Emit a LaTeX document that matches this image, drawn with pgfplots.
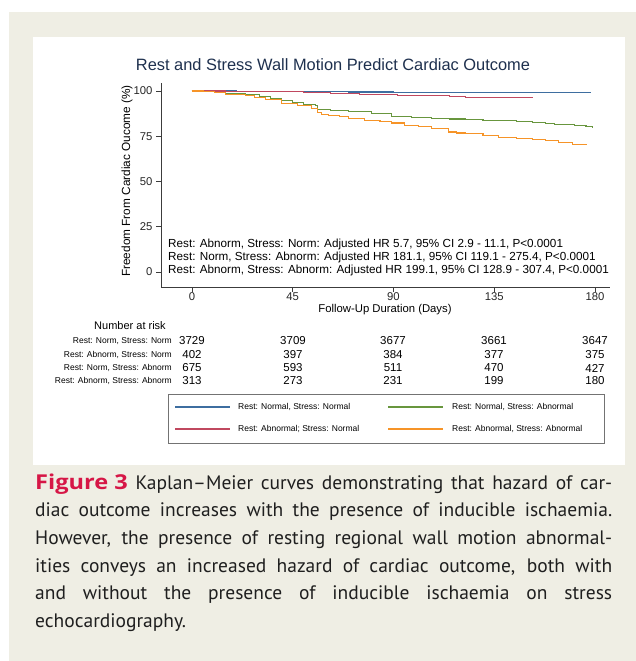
\documentclass[border=0pt]{standalone}
\usepackage{graphicx}
\usepackage{pgfplots}
\pgfplotsset{compat=1.18}
\usepackage{fontspec}
\setmainfont{Liberation Sans}
\newfontfamily\capfont{PT Sans}
\newfontfamily\figfont{Open Sans}
\definecolor{bg}{RGB}{239,238,228}
\definecolor{kmblue}{RGB}{62,110,160}
\definecolor{kmred}{RGB}{192,72,95}
\definecolor{kmgreen}{RGB}{104,150,62}
\definecolor{kmorange}{RGB}{246,148,40}
\definecolor{titleblue}{RGB}{30,48,78}
\definecolor{figred}{RGB}{214,22,70}
\definecolor{axgray}{RGB}{60,60,60}
\begin{document}
\begin{tikzpicture}[x=1pt,y=1pt]
\useasboundingbox (0,0) rectangle (636,661);
\fill[white] (0,0) rectangle (636,661);
\fill[bg] (9,0) rectangle (636,649);
\fill[white] (33,196) rectangle (625,624);
\node[text=titleblue,font=\fontsize{16.4}{19}\selectfont] at (333,596) {Rest and Stress Wall Motion Predict Cardiac Outcome};
\begin{axis}[at={(161pt,374pt)}, anchor=south west, scale only axis,
  width=449pt, height=204pt,
  xmin=-13.8, xmax=186.7, ymin=-8.3, ymax=104.4,
  axis x line*=bottom, axis y line*=left,
  axis line style={axgray, line width=0.6pt, -},
  xtick={0,45,90,135,180}, ytick={0,25,50,75,100},
  xticklabels={0,45,90,135,180},
  tick align=outside, major tick length=5pt,
  tick style={axgray, line width=0.6pt},
  tick label style={font=\fontsize{11.3}{13}\selectfont, text=black!85},
  xticklabel style={anchor=base, yshift=-9pt},
  /pgf/number format/assume math mode=true,
  clip=false]
\addplot[const plot, kmblue, line width=1.1pt] coordinates {
(0,100) (20,99.9) (45,99.6) (70,99.4) (90,99.3) (178,99.3)};
\addplot[const plot, kmred, line width=1.1pt] coordinates {
(0,100) (15,99.8) (33,99.5) (50,99.0) (62,98.6) (75,98.1) (92,97.7) (107,97.3) (115,96.8) (122,96.4) (152,96.2)};
\addplot[const plot, kmgreen, line width=1.1pt] coordinates {
(0,100) (5,99.8) (10,99.3) (15,98.7) (24,98.2) (30,97.0) (35,95.8) (40,94.5) (45,93.6) (50,92.6) (55,91.8) (56,89.6) (62,89.0) (70,88.5) (80,87.3) (89,86.0) (98,85.4) (107,84.9) (115,84.5) (122,84.2) (130,83.9) (137,83.6) (145,83.1) (152,82.7) (158,82.0) (162,81.3) (171,81.0) (176,80.3) (179,79.8)};
\addplot[const plot, kmorange, line width=1.1pt] coordinates {
(0,100) (5,99.5) (10,99.0) (15,98.2) (20,97.8) (24,97.3) (28,96.3) (33,95.1) (40,93.3) (47,91.8) (53.6,90.4) (56,88.2) (58,87.2) (61,86.3) (66,85.7) (70,84.9) (77,83.6) (84,83.0) (89,82.3) (95,80.9) (101,80.2) (107,79.1) (114.5,77.3) (118,76.8) (122,76.3) (130,75.2) (137,74.5) (145,73.7) (152,73.1) (158,72.5) (163.5,71.4) (170,70.6) (176,70.0)};
\end{axis}
\node[rotate=90,font=\fontsize{11.8}{13}\selectfont] at (127,480) {Freedom From Cardiac Oucome (\%)};
\node[font=\fontsize{11.3}{13}\selectfont] at (385,351) {Follow-Up Duration (Days)};
\begin{scope}[every node/.style={anchor=west,font=\fontsize{11.7}{13}\selectfont,inner sep=0pt}]
\node at (168,417) {Rest: Abnorm, Stress: Norm: Adjusted HR 5.7, 95\% CI 2.9 - 11.1, P<0.0001};
\node at (168,404) {Rest: Norm, Stress: Abnorm: Adjusted HR 181.1, 95\% CI 119.1 - 275.4, P<0.0001};
\node at (168,391) {Rest: Abnorm, Stress: Abnorm: Adjusted HR 199.1, 95\% CI 128.9 - 307.4, P<0.0001};
\end{scope}
% number at risk
\node[font=\fontsize{11}{13}\selectfont] at (130,335) {Number at risk};
\begin{scope}[every node/.style={anchor=east,font=\fontsize{8.5}{10}\selectfont,inner sep=0pt}]
\node at (172,320) {Rest: Norm, Stress: Norm};
\node at (172,306) {Rest: Abnorm, Stress: Norm};
\node at (172,293) {Rest: Norm, Stress: Abnorm};
\node at (172,280) {Rest: Abnorm, Stress: Abnorm};
\end{scope}
\begin{scope}[every node/.style={font=\fontsize{11.5}{13}\selectfont,inner sep=0pt}]
\node at (192,320) {3729}; \node at (293,320) {3709}; \node at (393,320) {3677}; \node at (494,320) {3661}; \node at (595,320) {3647};
\node at (192,306) {402}; \node at (293,306) {397}; \node at (393,306) {384}; \node at (494,306) {377}; \node at (595,306) {375};
\node at (192,293) {675}; \node at (293,293) {593}; \node at (393,293) {511}; \node at (494,293) {470}; \node at (595,293) {427};
\node at (192,280) {313}; \node at (293,280) {273}; \node at (393,280) {231}; \node at (494,280) {199}; \node at (595,280) {180};
\end{scope}
% legend
\draw[black!55, line width=0.6pt] (168,218) rectangle (604,267);
\draw[kmblue, line width=1.1pt] (175,254) -- (230,254);
\draw[kmred, line width=1.1pt] (175,232) -- (230,232);
\draw[kmgreen, line width=1.1pt] (388,254) -- (443,254);
\draw[kmorange, line width=1.1pt] (388,232) -- (443,232);
\begin{scope}[every node/.style={anchor=west,font=\fontsize{8.5}{10}\selectfont,inner sep=0pt}]
\node at (238,254) {Rest: Normal, Stress: Normal};
\node at (238,232) {Rest: Abnormal; Stress: Normal};
\node at (452,254) {Rest: Normal, Stress: Abnormal};
\node at (452,232) {Rest: Abnormal, Stress: Abnormal};
\end{scope}
% caption
\begin{scope}[every node/.style={anchor=base west,inner sep=0pt,font=\capfont\fontsize{19.5}{24}\selectfont,text=black!88}]
\node at (35,171) {\makebox[577pt][s]{{\figfont\bfseries\fontsize{20.5}{24}\selectfont\color{figred}\scalebox{1.15}[1]{Figure 3}} Kaplan–Meier curves demonstrating that hazard of car-}};
\node at (35,144) {\makebox[577pt][s]{diac outcome increases with the presence of inducible ischaemia.}};
\node at (35,116) {\makebox[577pt][s]{However, the presence of resting regional wall motion abnormal-}};
\node at (35,88) {\makebox[577pt][s]{ities conveys an increased hazard of cardiac outcome, both with}};
\node at (35,61) {\makebox[577pt][s]{and without the presence of inducible ischaemia on stress}};
\node at (35,33) {echocardiography.};
\end{scope}
\end{tikzpicture}
\end{document}
